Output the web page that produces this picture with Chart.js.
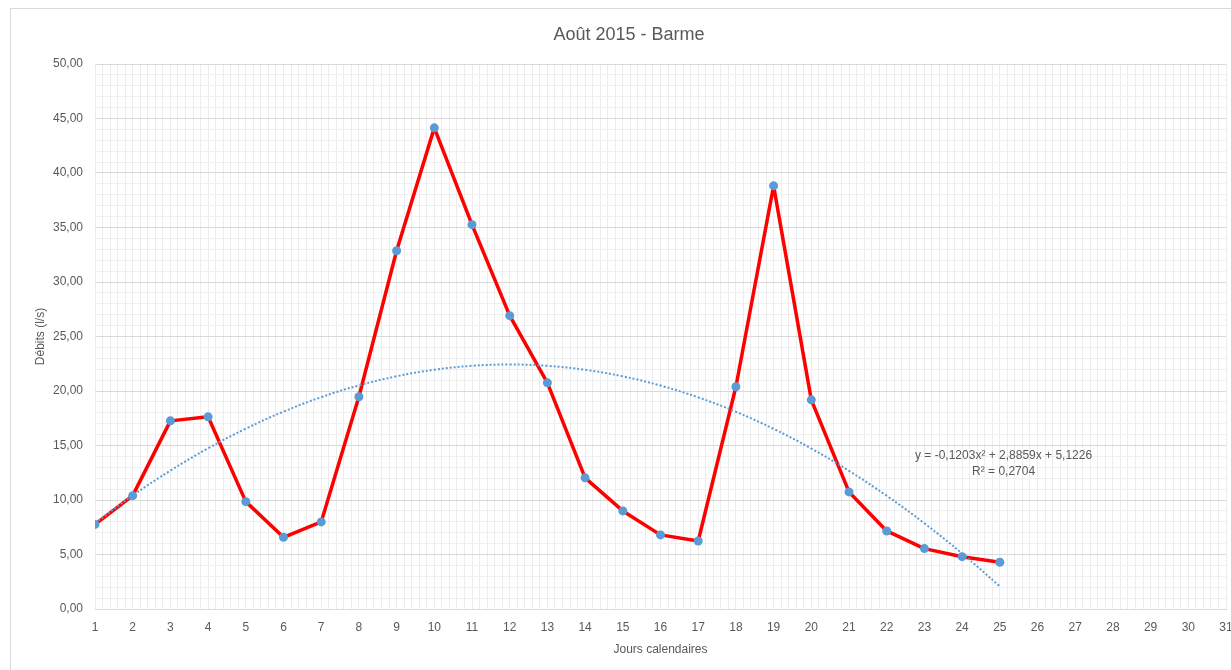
<!DOCTYPE html>
<html>
<head>
<meta charset="utf-8">
<script src="https://cdn.jsdelivr.net/npm/chart.js@4/dist/chart.umd.min.js"></script>
<style>
  html, body { margin: 0; padding: 0; background: #fff; overflow: hidden; }
  #frame { position: absolute; left: 10px; top: 8px; width: 1300px; height: 700px; border: 1px solid #d9d9d9; }
  #wrap { position: absolute; left: 0; top: 0; width: 1231px; height: 670px; }
</style>
</head>
<body>
<div id="frame"></div>
<div id="wrap"><canvas id="chart"></canvas></div>
<script>
const days = [1, 2, 3, 4, 5, 6, 7, 8, 9, 10, 11, 12, 13, 14, 15, 16, 17, 18, 19, 20, 21, 22, 23, 24, 25];
const debits = [7.76, 10.40, 17.26, 17.63, 9.85, 6.58, 7.99, 19.47, 32.87, 44.14, 35.26, 26.91, 20.75,
                12.03, 9.00, 6.80, 6.24, 20.39, 38.82, 19.19, 10.74, 7.16, 5.54, 4.80, 4.29];
// coefficients printed on the chart: y = a x² + b x + c
const trendCoefs = [-0.1203, 2.8859, 5.1226];
const trendLabel = ["y = -0,1203x\u00b2 + 2,8859x + 5,1226", "R\u00b2 = 0,2704"];
const chartTitle = "Août 2015 - Barme";

const FONT = "'Liberation Sans', Arial, sans-serif";
const GREY = "#595959";

const isWhole = (v, n) => Math.abs(v / n - Math.round(v / n)) < 1e-6;

const trendPoints = days.map(x => ({ x, y: trendCoefs[0] * x * x + trendCoefs[1] * x + trendCoefs[2] }));

// title and trendline equation, drawn by hand so they sit where Excel put them
const textPlugin = {
    id: "texts",
    afterDatasetsDraw(chart) {
        const { ctx, scales } = chart;
        ctx.save();
        ctx.fillStyle = GREY;
        ctx.textAlign = "center";
        ctx.textBaseline = "middle";

        ctx.font = "18px " + FONT;
        ctx.fillText(chartTitle, 629, 35);

        const px = scales.x.getPixelForValue(25.1);
        const py = scales.y.getPixelForValue(14.05);
        ctx.font = "12px " + FONT;
        ctx.fillText(trendLabel[0], px, py);
        ctx.fillText(trendLabel[1], px, py + 16);
        ctx.restore();
    }
};

new Chart(document.getElementById("chart").getContext("2d"), {
    type: "line",
    data: {
        datasets: [
            {
                label: "Tendance",
                data: trendPoints,
                borderColor: "#5b9bd5",
                borderWidth: 2,
                borderDash: [2, 2],
                pointRadius: 0,
                tension: 0.4,
                fill: false
            },
            {
                label: "Débits",
                data: days.map((d, i) => ({ x: d, y: debits[i] })),
                borderColor: "#ff0000",
                borderWidth: 3.5,
                borderJoinStyle: "round",
                pointRadius: 4.5,
                pointBackgroundColor: "#5b9bd5",
                pointBorderColor: "#5b9bd5",
                pointBorderWidth: 0,
                tension: 0,
                fill: false
            }
        ]
    },
    options: {
        responsive: true,
        maintainAspectRatio: false,
        animation: false,
        layout: { padding: { left: 11, top: 64, right: 5, bottom: 0 } },
        plugins: {
            legend: { display: false },
            tooltip: { enabled: false },
            title: { display: false }
        },
        scales: {
            x: {
                type: "linear",
                min: 1,
                max: 31,
                afterFit(scale) {
                    scale.height = 61;
                    scale.paddingLeft = 0;
                    scale.paddingRight = 0;
                },
                border: { display: true, color: "#d9d9d9" },
                grid: { color: "#ececec", drawTicks: false },
                ticks: {
                    stepSize: 0.2,
                    autoSkip: false,
                    maxRotation: 0,
                    padding: 11,
                    color: GREY,
                    font: { family: FONT, size: 12 },
                    callback: v => (isWhole(v, 1) ? String(Math.round(v)) : "")
                },
                title: {
                    display: true,
                    text: "Jours calendaires",
                    color: GREY,
                    font: { family: FONT, size: 12 },
                    padding: { top: 0, bottom: 13 }
                }
            },
            y: {
                min: 0,
                max: 50,
                afterFit(scale) { scale.width = 84; },
                border: { display: false },
                grid: {
                    drawTicks: false,
                    color: c => (isWhole(c.tick.value, 5) ? "#d9d9d9" : "#f0f0f0")
                },
                ticks: {
                    stepSize: 1,
                    autoSkip: false,
                    padding: 12,
                    color: GREY,
                    font: { family: FONT, size: 12 },
                    callback: v => (isWhole(v, 5) ? v.toFixed(2).replace(".", ",") : "")
                },
                title: {
                    display: true,
                    text: "Débits (l/s)",
                    color: GREY,
                    font: { family: FONT, size: 12 },
                    padding: { top: 22, bottom: 0 }
                }
            }
        }
    },
    plugins: [textPlugin]
});
</script>
</body>
</html>
